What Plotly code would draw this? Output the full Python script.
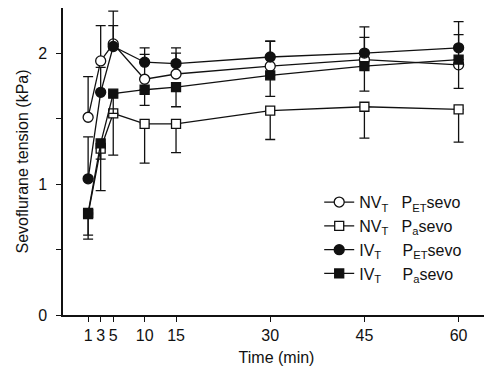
import plotly.graph_objects as go

time_min = [1, 3, 5, 10, 15, 30, 45, 60]

nv_pet = [1.51, 1.94, 2.07, 1.80, 1.84, 1.90, 1.95, 1.91]
nv_pet_err = [0.31, 0.27, 0.25, 0.24, 0.20, 0.19, 0.25, 0.33]

nv_pa = [0.77, 1.27, 1.54, 1.46, 1.46, 1.56, 1.59, 1.57]
nv_pa_err = [0.19, 0.32, 0.32, 0.30, 0.22, 0.22, 0.24, 0.25]

iv_pet = [1.04, 1.70, 2.05, 1.93, 1.92, 1.97, 2.00, 2.04]
iv_pet_err = [0.32, 0.19, 0.16, 0.06, 0.08, 0.12, 0.12, 0.10]

iv_pa = [0.78, 1.31, 1.69, 1.72, 1.74, 1.83, 1.90, 1.95]
iv_pa_err = [0.17, 0.12, 0.15, 0.12, 0.15, 0.16, 0.19, 0.22]

x_ticks = [1, 3, 5, 10, 15, 30, 45, 60]
y_ticks = [0, 0.5, 1, 1.5, 2]
y_ticktext = ["0", "", "1", "", "2"]

names = [
    "NV<sub>T</sub>\u00a0\u00a0\u00a0P<sub>ET</sub>sevo",
    "NV<sub>T</sub>\u00a0\u00a0\u00a0P<sub>a</sub>sevo",
    "IV<sub>T</sub>\u00a0\u00a0\u00a0\u2002P<sub>ET</sub>sevo",
    "IV<sub>T</sub>\u00a0\u00a0\u00a0\u2002P<sub>a</sub>sevo",
]

INK = "#111111"
fig = go.Figure()

series = [
    (names[0], nv_pet, nv_pet_err, "up", "circle", "white", 10),
    (names[1], nv_pa, nv_pa_err, "down", "square", "white", 9),
    (names[2], iv_pet, iv_pet_err, "up", "circle", INK, 10),
    (names[3], iv_pa, iv_pa_err, "down", "square", INK, 9),
]

for i, (nm, vals, errs, direction, sym, fill, size) in enumerate(series):
    zeros = [0] * len(errs)
    ey = dict(
        type="data",
        symmetric=False,
        array=errs if direction == "up" else zeros,
        arrayminus=zeros if direction == "up" else errs,
        color=INK,
        thickness=1.3,
        width=5,
    )
    fig.add_trace(go.Scatter(
        x=time_min, y=vals, name=nm, mode="lines+markers",
        line=dict(color=INK, width=1.3),
        marker=dict(symbol=sym, size=size, color=fill, line=dict(color=INK, width=1.3)),
        error_y=ey,
        legendgroup=f"g{i}",
    ))

fig.update_layout(
    width=484, height=361,
    margin=dict(l=55, r=2, t=0, b=54),
    paper_bgcolor="white", plot_bgcolor="white",
    font=dict(family="Liberation Sans, Arial, sans-serif", size=16, color=INK),
    showlegend=True,
    legend=dict(
        x=0.6, y=0.423, xanchor="left", yanchor="top",
        bgcolor="rgba(0,0,0,0)", font=dict(size=16),
        tracegroupgap=7.5, traceorder="normal",
    ),
)

fig.update_xaxes(
    range=[-3, 65], tickvals=x_ticks, ticktext=[str(t) for t in x_ticks],
    showgrid=False, zeroline=False, showline=True, linecolor=INK, linewidth=1.5,
    ticks="outside", ticklen=5, tickwidth=1.3, tickcolor=INK,
    ticklabelstandoff=0,
    title=dict(text="Time (min)", standoff=9, font=dict(size=16)),
)
fig.update_yaxes(
    range=[0, 2.344], tickvals=y_ticks, ticktext=y_ticktext,
    showgrid=False, zeroline=False, showline=True, linecolor=INK, linewidth=1.5,
    ticks="outside", ticklen=5, tickwidth=1.3, tickcolor=INK,
    ticklabelstandoff=6,
    title=dict(text="Sevoflurane tension (kPa)", standoff=6, font=dict(size=16)),
)

fig.write_html("out.html")
